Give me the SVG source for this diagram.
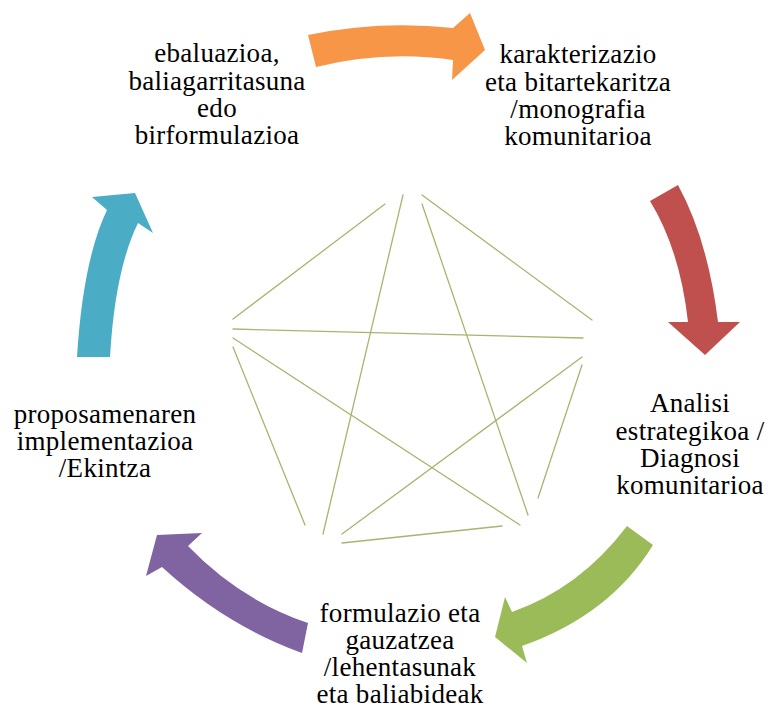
<svg xmlns="http://www.w3.org/2000/svg" width="768" height="707" viewBox="0 0 768 707">
<style>
text{font-family:'Liberation Serif','Times New Roman',serif;font-size:27px;letter-spacing:0.3px;fill:#000;text-anchor:middle}
.ln{stroke:#aab46f;stroke-width:1.3;fill:none;stroke-linecap:round}
</style>
<rect width="768" height="707" fill="#fff"/>
<g id="pentagon">
<line class="ln" x1="385" y1="204" x2="233" y2="319"/>
<line class="ln" x1="403" y1="195" x2="323" y2="534"/>
<line class="ln" x1="422" y1="195" x2="592" y2="320"/>
<line class="ln" x1="422" y1="204" x2="528" y2="515"/>
<line class="ln" x1="233" y1="329" x2="583" y2="338"/>
<line class="ln" x1="233" y1="338" x2="520" y2="525"/>
<line class="ln" x1="233" y1="347" x2="305" y2="525"/>
<line class="ln" x1="582" y1="357" x2="342" y2="534"/>
<line class="ln" x1="582" y1="365" x2="538" y2="498"/>
<line class="ln" x1="342" y1="543" x2="502" y2="526"/>
</g>
<g id="connectors">
<path id="arrow-orange" fill="#f79646" d="M308,35 Q380,20 453,28 L470,13 L485,50 L452,80 L453,60 Q385,50 316,67 Z"/>
<path id="arrow-red" fill="#c0504d" d="M650,201 Q680,250 688,322 L668,322 L705,355 L740,322 L718,322 Q708,240 678,185 Z"/>
<path id="arrow-green" fill="#9bbb59" d="M627,526 Q580,588 512,612 L505,597 L495,637 L527,663 L522,646 Q610,615 653,545 Z"/>
<path id="arrow-purple" fill="#8064a2" d="M308,623 Q240,600 188,546 L202,533 L157,535 L146,576 L162,567 Q225,625 302,653 Z"/>
<path id="arrow-blue" fill="#4bacc6" d="M77,357 Q83,260 107,210 L92,197 L135,193 L153,233 L138,223 Q115,270 110,357 Z"/>
</g>
<g id="node-ebaluazioa">
<text x="217" y="62">ebaluazioa,</text>
<text x="217" y="90">baliagarritasuna</text>
<text x="217" y="117">edo</text>
<text x="217" y="144">birformulazioa</text>
</g>
<g id="node-karakterizazio">
<text x="578" y="63">karakterizazio</text>
<text x="578" y="91">eta bitartekaritza</text>
<text x="578" y="118">/monografia</text>
<text x="578" y="145">komunitarioa</text>
</g>
<g id="node-analisi">
<text x="690" y="412">Analisi</text>
<text x="690" y="440">estrategikoa /</text>
<text x="690" y="467">Diagnosi</text>
<text x="690" y="494">komunitarioa</text>
</g>
<g id="node-formulazio">
<text x="400" y="622">formulazio eta</text>
<text x="400" y="649">gauzatzea</text>
<text x="400" y="676">/lehentasunak</text>
<text x="400" y="703">eta baliabideak</text>
</g>
<g id="node-proposamenaren">
<text x="105" y="423">proposamenaren</text>
<text x="105" y="450">implementazioa</text>
<text x="105" y="477">/Ekintza</text>
</g>
</svg>
